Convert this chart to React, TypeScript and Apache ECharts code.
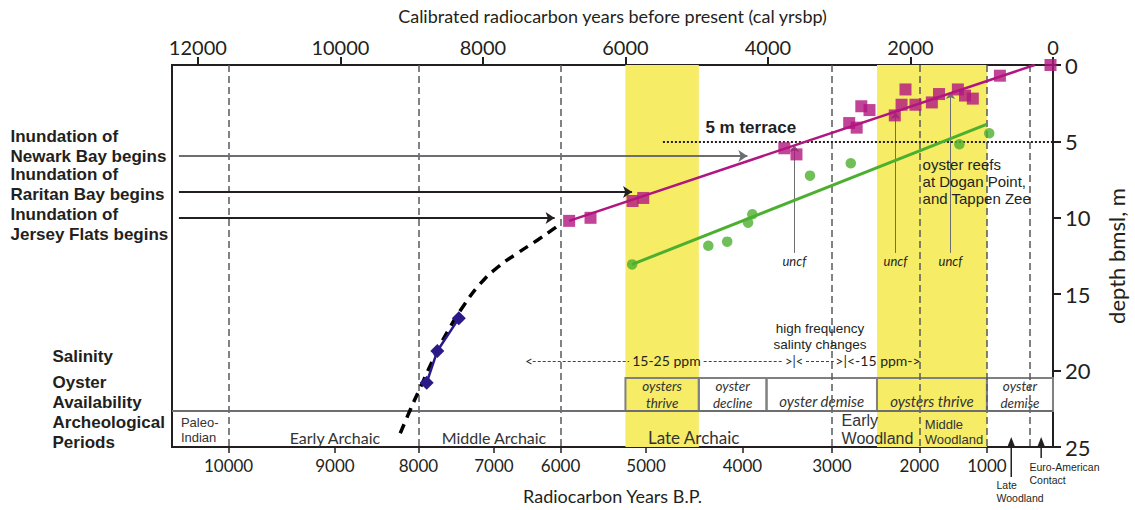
import { useEffect, useRef } from 'react';
import * as echarts from 'echarts';

// ---- axes -------------------------------------------------------------
const CAL_MAX = 12363; // calibrated yr BP at the left frame edge
const CAL_INTERVAL = 2000;
const DEPTH_MAX = 25;

// Radiocarbon-year tick labels (bottom axis) and the calibrated ages where they fall
const RC_LABELS = [10000, 9000, 8000, 7000, 6000, 5000, 4000, 3000, 2000, 1000];
const RC_CAL_POS = [11569, 10077, 8905, 7845, 6911, 5711, 4358, 3103, 1876, 927];

// Boundaries of archaeological periods (cal yr BP)
const PERIOD_BOUNDS = [11569, 8905, 6911, 3103, 1876, 927, 328];

// Periods when oysters thrive (cal yr BP)
const THRIVE_BANDS: [number, number][] = [[6000, 4970], [2470, 927]];

// Oyster availability cells: start, end, label, label placement
const OYSTER_CELLS: [number, number, string, string][] = [
  [6000, 4970, 'oysters\nthrive', 'inside'],
  [4970, 4020, 'oyster\ndecline', 'inside'],
  [4020, 2470, 'oyster demise', 'insideBottom'],
  [2470, 927, 'oysters thrive', 'insideBottom'],
  [927, 0, 'oyster\ndemise', 'inside'],
];
const OYSTER_ROW: [number, number] = [20.48, 22.64];

// ---- data (cal yr BP, depth m) ----------------------------------------
const HUDSON_SQUARES: [number, number][] = [
  [6790, 10.2], [6490, 10.0], [5900, 8.9], [5750, 8.7], [3770, 5.45], [3600, 5.85],
  [2860, 3.8], [2755, 4.1], [2690, 2.7], [2575, 2.95], [2220, 3.3], [2125, 2.6],
  [2070, 1.6], [1930, 2.6], [1700, 2.45], [1600, 1.9], [1335, 1.6], [1235, 2.0],
  [1125, 2.2], [745, 0.7], [35, 0],
];
const HUDSON_TREND: [number, number][] = [[6790, 10.2], [258, 0]];

const OYSTER_DOTS: [number, number][] = [
  [5906, 13.05], [4837, 11.83], [4572, 11.56], [4279, 10.32], [4219, 9.77],
  [3410, 7.24], [2838, 6.43], [1314, 5.19], [895, 4.47],
];
const OYSTER_TREND: [number, number][] = [[5906, 13.05], [932, 3.88]];

const EARLY_DIAMONDS: [number, number][] = [[8789, 20.79], [8640, 18.72], [8338, 16.58]];
const EXTRAPOLATED_CURVE: [number, number][] = [
  [9160, 24.1], [9021, 22.58], [8905, 21.38], [8640, 18.72], [8460, 17.15], [8264, 15.71],
  [8040, 14.33], [7789, 13.22], [7510, 12.3], [7232, 11.45], [6999, 10.69], [6907, 10.36],
];

// Inundation arrows: depth, start cal, end cal, colour
const INUNDATION: [number, number, number, string][] = [
  [5.96, 12266, 4289, '#6d6e71'],
  [8.31, 12266, 5907, '#231f20'],
  [10.01, 12266, 6994, '#231f20'],
];

// Unconformity markers: cal, from depth, to depth
const UNCF: [number, number, number][] = [[3629, 12.3, 5.24], [2211, 12.3, 3.08], [1439, 12.3, 1.77]];

const TERRACE_DEPTH = 5;
const TERRACE_FROM = 5474;

const FONT = 'Lato, "Open Sans", sans-serif';
const NOTE_FONT = '"Liberation Sans", Arial, sans-serif';
const INK = '#231f20';
const GREY = '#6d6e71';
const MAGENTA = '#b1157f';
const GREEN = '#4caf2f';
const NAVY = '#2a1a87';
const YELLOW = '#f6ec66';

type NoteOpts = { align?: 'left' | 'center'; weight?: string; italic?: boolean; lh?: number; color?: string; family?: string };

// A text note placed either at a data coordinate or at a pixel position
const note = (at: { coord?: [number, number]; x?: number; y?: number }, text: string, size: number, o: NoteOpts = {}) => ({
  ...at,
  symbol: 'circle', symbolSize: 1, itemStyle: { color: 'rgba(0,0,0,0)' },
  label: {
    show: true, formatter: text,
    position: o.align === 'center' ? 'inside' : 'right', distance: 0,
    fontSize: size, lineHeight: o.lh || size, fontFamily: o.family || FONT,
    fontWeight: o.weight || 'normal', fontStyle: o.italic ? 'italic' : 'normal',
    color: o.color || INK,
  },
});
const heading = (x: number, y: number, text: string) =>
  note({ x, y }, text, 17, { weight: 'bold', lh: 19.5, family: NOTE_FONT });

const SAL_DEPTH = 19.37;
const PERIOD_INK = '#333333';

const NOTES = [
  heading(10, 146.5, 'Inundation of\nNewark Bay begins'),
  heading(10, 184.5, 'Inundation of\nRaritan Bay begins'),
  heading(10, 224.5, 'Inundation of\nJersey Flats begins'),
  heading(52, 356, 'Salinity'),
  heading(52, 392.5, 'Oyster\nAvailability'),
  heading(52, 432.5, 'Archeological\nPeriods'),
  note({ coord: [4885, 4.12] }, '5 m terrace', 17, { weight: 'bold', family: NOTE_FONT }),
  note({ coord: [1837, 7.62] }, 'oyster reefs\nat Dogan Point,\nand Tappen Zee', 15, { lh: 17.3, family: NOTE_FONT }),
  ...UNCF.map(([c]) => note({ coord: [c, 12.83] }, 'uncf', 13, { align: 'center', italic: true })),
  note({ coord: [3270, 17.77] }, 'high frequency\nsalinty changes', 13.5, { align: 'center', lh: 15.6, family: NOTE_FONT }),
  note({ coord: [7413, SAL_DEPTH] }, '<', 13),
  note({ coord: [5425, SAL_DEPTH] }, '15-25 ppm', 14, { align: 'center' }),
  note({ coord: [3633, SAL_DEPTH] }, '>|<', 13, { align: 'center' }),
  note({ coord: [3061, SAL_DEPTH] }, '>|<-15 ppm->', 14),
  note({ coord: [12245, 23.92] }, 'Paleo-\nIndian', 13, { lh: 15, color: PERIOD_INK, family: NOTE_FONT }),
  note({ coord: [10077, 24.4] }, 'Early Archaic', 16, { align: 'center', color: PERIOD_INK }),
  note({ coord: [7845, 24.4] }, 'Middle Archaic', 16, { align: 'center', color: PERIOD_INK }),
  note({ coord: [5042, 24.4] }, 'Late Archaic', 17, { align: 'center', color: PERIOD_INK }),
  note({ coord: [2974, 23.85] }, 'Early\nWoodland', 16, { lh: 18.4, color: PERIOD_INK, family: NOTE_FONT }),
  note({ coord: [1806, 24.02] }, 'Middle\nWoodland', 13, { lh: 15, color: PERIOD_INK, family: NOTE_FONT }),
  note({ x: 996, y: 491.5 }, 'Late\nWoodland', 10.5, { lh: 12.1, family: NOTE_FONT }),
  note({ x: 1029, y: 473.5 }, 'Euro-American\nContact', 10.5, { lh: 12.1, family: NOTE_FONT }),
];

// dashed runs of the salinity scale (cal yr BP)
const SAL_RUNS: [number, number][] = [[7301, 5948], [4902, 3801], [3466, 3076]];

export default function App() {
  const ref = useRef<HTMLDivElement>(null);

  useEffect(() => {
    if (!ref.current) return;
    const chart = echarts.init(ref.current, null, { renderer: 'svg' });

    const option: any = {
      animation: false,
      backgroundColor: '#ffffff',
      textStyle: { fontFamily: FONT },
      grid: {
        left: 172, right: 77, top: 65, bottom: 63,
        show: true, borderColor: INK, borderWidth: 2, backgroundColor: 'transparent',
      },
      xAxis: [
        {
          type: 'value', position: 'top', inverse: true,
          min: 0, max: CAL_MAX, interval: CAL_INTERVAL,
          name: 'Calibrated radiocarbon years before present (cal yrsbp)',
          nameLocation: 'middle', nameGap: 40,
          nameTextStyle: { fontSize: 18, color: INK, fontFamily: FONT },
          axisLine: { show: true, lineStyle: { color: INK, width: 2 } },
          axisTick: { show: true, length: 8, lineStyle: { color: INK, width: 2 } },
          axisLabel: {
            fontSize: 20, color: INK, margin: 8, fontFamily: FONT, showMaxLabel: false,
            formatter: (v: number) => (v % CAL_INTERVAL === 0 ? String(v) : ''),
          },
          splitLine: { show: false },
        },
        {
          type: 'value', position: 'bottom', inverse: true,
          min: 0, max: CAL_MAX,
          name: 'Radiocarbon Years B.P.',
          nameLocation: 'middle', nameGap: 40,
          nameTextStyle: { fontSize: 18, color: INK, fontFamily: FONT },
          axisLine: { show: true, lineStyle: { color: INK, width: 2 } },
          axisTick: { show: true, length: 6, customValues: RC_CAL_POS, lineStyle: { color: INK, width: 1.5 } },
          axisLabel: {
            fontSize: 17, color: INK, margin: 10, fontFamily: FONT,
            customValues: RC_CAL_POS,
            formatter: (v: number) => {
              const i = RC_CAL_POS.indexOf(v);
              return i >= 0 ? String(RC_LABELS[i]) : '';
            },
          },
          splitLine: { show: false },
        },
      ],
      yAxis: {
        type: 'value', position: 'right', inverse: true,
        min: 0, max: DEPTH_MAX, interval: 5,
        name: 'depth bmsl, m', nameLocation: 'middle', nameGap: 52, nameRotate: 90,
        nameTextStyle: { fontSize: 22, color: INK, fontFamily: FONT },
        axisLine: { show: true, lineStyle: { color: INK, width: 2 } },
        axisTick: { show: true, length: 8, lineStyle: { color: INK, width: 2 } },
        axisLabel: { fontSize: 22, color: INK, margin: 12, fontFamily: FONT },
        splitLine: { show: false },
      },
      series: [
        {
          name: 'thrive bands', type: 'line', data: [], z: 1, silent: true,
          markArea: {
            silent: true,
            itemStyle: { color: YELLOW },
            data: THRIVE_BANDS.map(([a, b]) => [{ xAxis: a, yAxis: 0 }, { xAxis: b, yAxis: DEPTH_MAX }]),
          },
        },
        {
          name: 'period bounds', type: 'line', data: [], z: 2, silent: true,
          markLine: {
            silent: true, symbol: 'none', label: { show: false },
            lineStyle: { color: '#58595b', width: 1.5, type: [7, 4] },
            data: PERIOD_BOUNDS.map((v) => ({ xAxis: v })),
          },
        },
        {
          name: 'oyster availability', type: 'line', data: [], z: 3, silent: true,
          markArea: {
            silent: true,
            itemStyle: { color: 'rgba(0,0,0,0)', borderColor: '#808080', borderWidth: 2 },
            data: OYSTER_CELLS.map(([a, b, text, pos]) => {
              const twoLine = text.includes('\n');
              return [
                {
                  xAxis: a, yAxis: OYSTER_ROW[0],
                  label: {
                    show: true, formatter: text, position: pos, distance: 2,
                    fontSize: twoLine ? 13.5 : 15, lineHeight: twoLine ? 16.3 : 18,
                    fontStyle: 'italic', color: '#333333', fontFamily: FONT,
                  },
                },
                { xAxis: b, yAxis: OYSTER_ROW[1] },
              ];
            }),
          },
        },
        {
          name: 'annotations', type: 'line', data: [], z: 4, silent: true, clip: false,
          markLine: {
            silent: true, label: { show: false },
            data: [
              ...INUNDATION.map(([d, from, to, c]) => [
                { coord: [from, d], symbol: 'none', lineStyle: { color: c, width: 2, type: 'solid' } },
                { coord: [to, d], symbol: 'arrow', symbolSize: 9 },
              ]),
              ...UNCF.map(([c, from, to]) => [
                { coord: [c, from], symbol: 'none', lineStyle: { color: GREY, width: 1, type: 'solid' } },
                { coord: [c, to], symbol: 'arrow', symbolSize: 7 },
              ]),
              [
                { coord: [TERRACE_FROM, TERRACE_DEPTH], symbol: 'none', lineStyle: { color: INK, width: 2, type: [2, 2] } },
                { coord: [0, TERRACE_DEPTH], symbol: 'none' },
              ],
              [
                { coord: [CAL_MAX, OYSTER_ROW[1]], symbol: 'none', lineStyle: { color: GREY, width: 2, type: 'solid' } },
                { coord: [0, OYSTER_ROW[1]], symbol: 'none' },
              ],
              ...SAL_RUNS.map(([a, b]) => [
                { coord: [a, SAL_DEPTH], symbol: 'none', lineStyle: { color: '#444444', width: 1, type: [3, 2] } },
                { coord: [b, SAL_DEPTH], symbol: 'none' },
              ]),
            ],
          },
        },
        {
          name: 'extrapolation', type: 'line', data: EXTRAPOLATED_CURVE, z: 5, smooth: true,
          symbol: 'none', lineStyle: { color: '#000000', width: 3.5, type: [10, 7] },
        },
        {
          name: 'hudson trend', type: 'line', data: HUDSON_TREND, z: 5,
          symbol: 'none', lineStyle: { color: MAGENTA, width: 2.5 },
        },
        {
          name: 'oyster trend', type: 'line', data: OYSTER_TREND, z: 5,
          symbol: 'none', lineStyle: { color: GREEN, width: 3 },
        },
        {
          name: 'early', type: 'line', data: EARLY_DIAMONDS, z: 6,
          symbol: 'diamond', symbolSize: 14, itemStyle: { color: NAVY },
          lineStyle: { color: NAVY, width: 2.5 },
        },
        {
          name: 'hudson', type: 'scatter', data: HUDSON_SQUARES, z: 6,
          symbol: 'rect', symbolSize: 12, itemStyle: { color: MAGENTA },
        },
        {
          name: 'oysters', type: 'scatter', data: OYSTER_DOTS, z: 6,
          symbol: 'circle', symbolSize: 10.5, itemStyle: { color: GREEN },
        },
        {
          name: 'notes', type: 'scatter', data: [], z: 10, silent: true, clip: false,
          markPoint: { silent: true, data: NOTES },
        },
      ],
    };

    chart.setOption(option);

    // small up-arrows for the periods below the axis
    const px = (c: number): number =>
      (chart.convertToPixel({ xAxisIndex: 0, yAxisIndex: 0 }, [c, 0]) as number[])[0];
    const upArrow = (x: number, y1: number, y2: number) => [
      { type: 'line', z: 100, silent: true, shape: { x1: x, y1, x2: x, y2: y2 + 4 }, style: { stroke: INK, lineWidth: 1.5 } },
      { type: 'polygon', z: 100, silent: true, shape: { points: [[x, y2 - 2], [x - 3.5, y2 + 7], [x + 3.5, y2 + 7]] }, style: { fill: INK } },
    ];
    chart.setOption({ graphic: [...upArrow(px(586), 477, 439), ...upArrow(px(166), 458, 439)] });

    return () => chart.dispose();
  }, []);

  return <div ref={ref} style={{ position: 'absolute', left: 0, top: 0, width: 1135, height: 510 }} />;
}
